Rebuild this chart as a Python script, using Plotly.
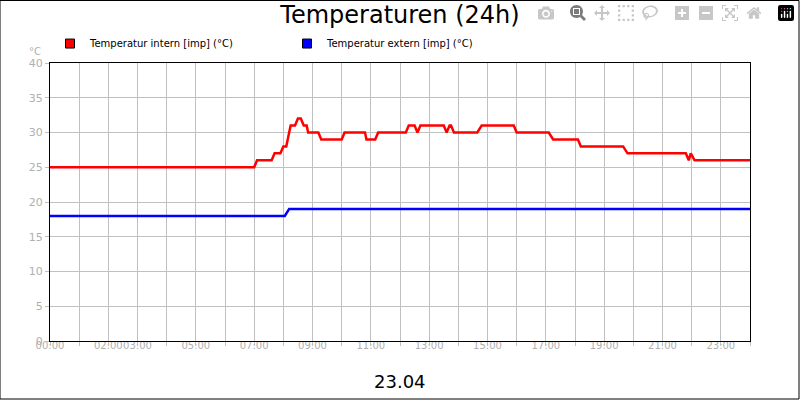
import plotly.graph_objects as go

# hours of day and values
intern_h = [0, 7.0, 7.1, 7.6, 7.7, 7.9, 8.0, 8.1, 8.25, 8.4, 8.5, 8.6, 8.7, 8.8, 8.85, 9.2, 9.3, 10.0, 10.1, 10.8, 10.85, 11.15, 11.25,
            12.2, 12.3, 12.5, 12.6, 12.7, 13.5, 13.6, 13.7, 13.75, 13.85, 14.65, 14.8, 15.9, 16.0, 17.1, 17.25, 18.1, 18.2,
            19.65, 19.8, 21.8, 21.9, 21.97, 22.1, 24.0]
intern_v = [25, 25, 26, 26, 27, 27, 28, 28, 31, 31, 32, 32, 31, 31, 30, 30, 29, 29, 30, 30, 29, 29, 30,
            30, 31, 31, 30, 31, 31, 30, 31, 31, 30, 30, 31, 31, 30, 30, 29, 29, 28,
            28, 27, 27, 26, 27, 26, 26]
extern_h = [0, 8.05, 8.2, 24.0]
extern_v = [18, 18, 19, 19]
tick_vals = [0, 2, 3, 5, 7, 9, 11, 13, 15, 17, 19, 21, 23]
tick_text = ["00:00", "02:00", "03:00", "05:00", "07:00", "09:00", "11:00", "13:00", "15:00", "17:00", "19:00", "21:00", "23:00"]

fig = go.Figure()
fig.add_trace(go.Scatter(x=intern_h, y=intern_v, mode="lines", line=dict(color="#ff0000", width=2.5),
                         showlegend=False))
fig.add_trace(go.Scatter(x=extern_h, y=extern_v, mode="lines", line=dict(color="#0000ff", width=2.5),
                         showlegend=False))
for nm, col in [("Temperatur intern [imp] (°C)", "#ff0000"), ("Temperatur extern [imp] (°C)", "#0000ff")]:
    fig.add_trace(go.Scatter(x=[None], y=[None], mode="markers", name=nm,
                             marker=dict(symbol="square", size=9, color=col, line=dict(color="black", width=1))))

fig.update_layout(
    width=800, height=400, paper_bgcolor="white", plot_bgcolor="white",
    margin=dict(l=50, r=50, t=63, b=59),
    font=dict(family="DejaVu Sans", size=11, color="black"),
    title=dict(text="Temperaturen (24h)", x=0.5, xanchor="center", y=0.985, yanchor="top",
               font=dict(size=24, family="DejaVu Sans")),
    showlegend=True,
    legend=dict(orientation="h", x=0.0, y=1.07, xanchor="left", yanchor="middle",
                font=dict(size=10), entrywidth=192, entrywidthmode="pixels", bgcolor="rgba(0,0,0,0)",
                itemwidth=30, tracegroupgap=0),
    xaxis=dict(range=[0, 24], tickvals=list(range(25)), ticktext=[""] * 25, showgrid=True, gridcolor="#c0c0c0",
               showline=True, linecolor="black", mirror=True, ticks="outside", ticklen=4, tickcolor="#c0c0c0",
               zeroline=False),
    yaxis=dict(range=[0, 40], dtick=5, showgrid=True, gridcolor="#c0c0c0", showline=True, linecolor="black",
               mirror=True, ticks="outside", ticklen=4, tickcolor="#c0c0c0", tickfont=dict(color="#b0b0b0", size=11),
               zeroline=False),
    shapes=[dict(type="rect", xref="paper", yref="paper", x0=-50/700, x1=1+49/700, y0=-58/278, y1=1+62.5/278,
                 line=dict(color="black", width=1))],
)
fig.add_trace(go.Scatter(x=tick_vals, y=[0] * len(tick_vals), text=tick_text, mode="text", textposition="bottom center",
                         textfont=dict(color="#b0b0b0", size=10), showlegend=False, hoverinfo="skip", cliponaxis=False))
fig.add_annotation(text="°C", xref="paper", yref="paper", x=-0.01, y=1.07, showarrow=False,
                   font=dict(color="#b0b0b0", size=10), xanchor="right")
fig.add_annotation(text="23.04", xref="paper", yref="paper", x=0.5, y=-0.1, showarrow=False,
                   font=dict(size=18), yanchor="top")
fig.write_html("out.html")
with open("out.html", encoding="utf-8") as f:
    html = f.read()
html = html.replace("<head>", "<head><style>html,body{margin:0;padding:0;overflow:hidden}</style>", 1)
with open("out.html", "w", encoding="utf-8") as f:
    f.write(html)
